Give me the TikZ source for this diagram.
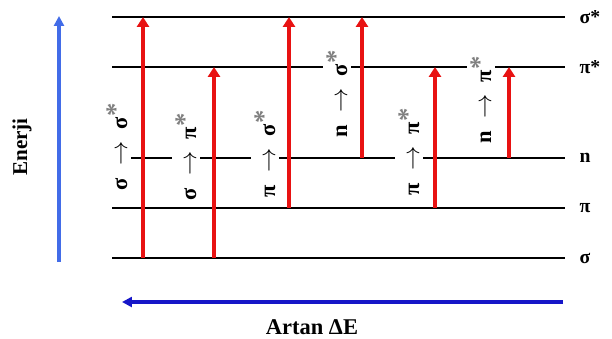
\documentclass[tikz,border=0pt]{standalone}
\usepackage{fontspec}
\setmainfont{Liberation Serif}
\usetikzlibrary{arrows.meta}
\definecolor{transred}{RGB}{232,18,18}
\definecolor{enblue}{RGB}{66,108,232}
\definecolor{deblue}{RGB}{22,22,200}
\newcommand{\trn}[2]{#1\hspace{0.55em}$\rightarrow$\hspace{0.55em}#2\raisebox{2pt}{\textcolor{gray}{\fontsize{19}{19}\selectfont *}}}

\begin{document}
\begin{tikzpicture}[x=0.025cm,y=-0.025cm,
  level/.style={draw=black,line width=1.2pt},
  levlbl/.style={anchor=west,font=\fontsize{14}{16}\selectfont\bfseries,inner sep=1pt},
  trans/.style={-{Triangle[length=7pt,width=8.5pt]},transred,line width=2.9pt},
  tlbl/.style={rotate=90,fill=white,inner sep=2.5pt,font=\fontsize{16}{18}\selectfont\bfseries},
  axis/.style={-{Triangle[length=7pt,width=7pt]},line width=2.2pt},
  axlbl/.style={font=\fontsize{15}{17}\selectfont\bfseries,inner sep=1pt}
]
\useasboundingbox (0,0) rectangle (612,338);
%% Niveaux
\node[levlbl] (Lss) at (578,17)  {σ*};
\node[levlbl] (Lps) at (578,67)  {π*};
\node[levlbl] (Ln)  at (578,158) {n};
\node[levlbl] (Lp)  at (578,208) {π};
\node[levlbl] (Ls)  at (578,258) {σ};
\coordinate (ss0) at (112,17);  \coordinate (ss1) at (565,17);
\coordinate (ps0) at (112,67);  \coordinate (ps1) at (565,67);
\coordinate (n0)  at (112,158); \coordinate (n1)  at (565,158);
\coordinate (p0)  at (112,208); \coordinate (p1)  at (565,208);
\coordinate (s0)  at (112,258); \coordinate (s1)  at (565,258);
\draw[level] (ss0) -- (ss1);
\draw[level] (ps0) -- (ps1);
\draw[level] (n0)  -- (n1);
\draw[level] (p0)  -- (p1);
\draw[level] (s0)  -- (s1);
%% Etiketler
\node[tlbl] (T1) at (117,147) {\trn{σ}{σ}};
\node[tlbl] (T2) at (186,157) {\trn{σ}{π}};
\node[tlbl] (T3) at (265,154) {\trn{π}{σ}};
\node[tlbl] (T4) at (337,94)  {\trn{n}{σ}};
\node[tlbl] (T5) at (409,152) {\trn{π}{π}};
\node[tlbl] (T6) at (481,100) {\trn{n}{π}};
%% Geçişler
\coordinate (a1) at (143,258); \coordinate (b1) at (143,17);
\coordinate (a2) at (214,258); \coordinate (b2) at (214,67);
\coordinate (a3) at (289,208); \coordinate (b3) at (289,17);
\coordinate (a4) at (362,158); \coordinate (b4) at (362,17);
\coordinate (a5) at (435,208); \coordinate (b5) at (435,67);
\coordinate (a6) at (509,158); \coordinate (b6) at (509,67);
\draw[trans] (a1) -- (b1);
\draw[trans] (a2) -- (b2);
\draw[trans] (a3) -- (b3);
\draw[trans] (a4) -- (b4);
\draw[trans] (a5) -- (b5);
\draw[trans] (a6) -- (b6);
%% Eksenler
\coordinate (E0) at (59,262); \coordinate (E1) at (59,16);
\coordinate (D0) at (563,302); \coordinate (D1) at (122,302);
\draw[axis,enblue] (E0) -- (E1);
\draw[axis,deblue] (D0) -- (D1);
\node[axlbl,rotate=90] (En) at (22,147) {Enerji};
\node[axlbl,font=\fontsize{16}{18}\selectfont\bfseries] (dE) at (312,327) {Artan ΔE};
\end{tikzpicture}
\end{document}
